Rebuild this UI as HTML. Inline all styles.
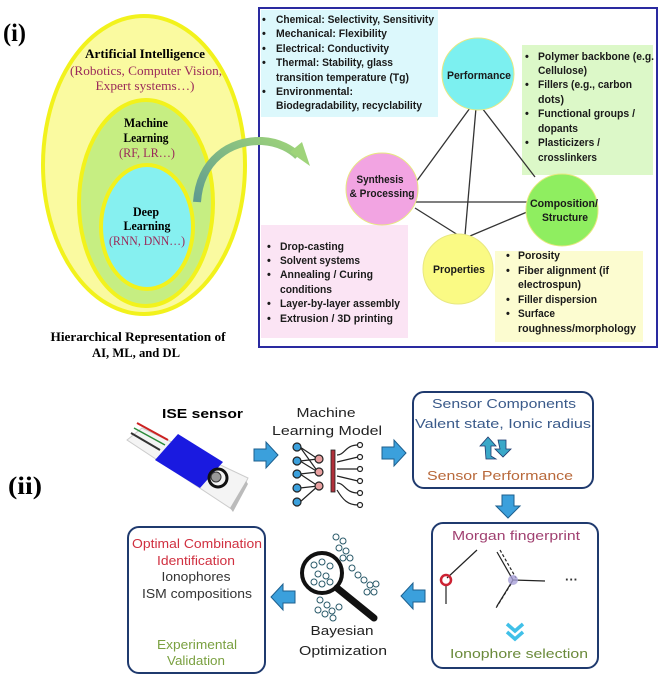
<!DOCTYPE html>
<html><head><meta charset="utf-8"><style>
html,body{margin:0;padding:0;background:#fff;}
svg{display:block;}
.s{font-family:"Liberation Serif",serif;}
.b{font-family:"Liberation Sans",sans-serif;font-weight:bold;font-size:11px;fill:#1a1a1a;}
.a{font-family:"Liberation Sans",sans-serif;font-size:13px;}
</style></head><body>
<svg width="661" height="676" viewBox="0 0 661 676" xmlns="http://www.w3.org/2000/svg">
<defs>
<linearGradient id="ga" x1="0" y1="1" x2="1" y2="0"><stop offset="0" stop-color="#5e9a90"/><stop offset="1" stop-color="#9fd47a"/></linearGradient>
</defs>
<!-- (i) -->
<text x="3" y="41" class="s" font-size="25" font-weight="bold" textLength="23" lengthAdjust="spacingAndGlyphs">(i)</text>
<ellipse cx="144" cy="165" rx="101" ry="149" fill="#fafaa0" stroke="#f2f21c" stroke-width="4"/>
<ellipse cx="146" cy="203" rx="67" ry="103" fill="#c6ee82" stroke="#f2f21c" stroke-width="4"/>
<ellipse cx="147" cy="227" rx="46" ry="62" fill="#86f0f0" stroke="#f2f21c" stroke-width="4"/>
<g class="s" text-anchor="middle" font-size="13">
<text x="145" y="58" font-weight="bold" textLength="120" lengthAdjust="spacingAndGlyphs">Artificial Intelligence</text>
<text x="146" y="75" fill="#9a2a5a" textLength="152" lengthAdjust="spacingAndGlyphs">(Robotics, Computer Vision,</text>
<text x="145" y="90" fill="#9a2a5a" textLength="99" lengthAdjust="spacingAndGlyphs">Expert systems…)</text>
<text x="146" y="127" font-weight="bold" textLength="44" lengthAdjust="spacingAndGlyphs">Machine</text>
<text x="146" y="142" font-weight="bold" textLength="45" lengthAdjust="spacingAndGlyphs">Learning</text>
<text x="147" y="157" fill="#9a2a5a" textLength="56" lengthAdjust="spacingAndGlyphs">(RF, LR…)</text>
<text x="146" y="216" font-weight="bold" textLength="26" lengthAdjust="spacingAndGlyphs">Deep</text>
<text x="147" y="230" font-weight="bold" textLength="47" lengthAdjust="spacingAndGlyphs">Learning</text>
<text x="147" y="245" fill="#9a2a5a" textLength="76" lengthAdjust="spacingAndGlyphs">(RNN, DNN…)</text>
<text x="138" y="341" font-weight="bold" textLength="175" lengthAdjust="spacingAndGlyphs">Hierarchical Representation of</text>
<text x="136" y="357" font-weight="bold" textLength="88" lengthAdjust="spacingAndGlyphs">AI, ML, and DL</text>
</g>
<!-- right box -->
<rect x="259" y="8" width="398" height="339" fill="#fff" stroke="#2a2aa0" stroke-width="2"/>
<rect x="261" y="10" width="177" height="107" fill="#dcf8fc"/>
<rect x="522" y="45" width="131" height="130" fill="#dcf8c8"/>
<rect x="261" y="225" width="147" height="113" fill="#fbe4f4"/>
<rect x="495" y="251" width="148" height="91" fill="#fcfcd0"/>
<!-- arrow -->
<path d="M197 202 C200 160 230 140 262 141 C280 142 292 150 298 156" fill="none" stroke="url(#ga)" stroke-width="8"/>
<polygon points="290,152 310,166 302,142" fill="#9fd47a"/>
<g stroke="#333" stroke-width="1.3">
<line x1="470" y1="108" x2="416" y2="182"/>
<line x1="476" y1="108" x2="465" y2="235"/>
<line x1="482" y1="108" x2="535" y2="177"/>
<line x1="415" y1="202" x2="527" y2="202"/>
<line x1="415" y1="208" x2="458" y2="235"/>
<line x1="470" y1="236" x2="527" y2="212"/>
</g>
<circle cx="478" cy="74" r="36" fill="#7cf0f0" stroke="#e8e880" stroke-width="1"/>
<circle cx="382" cy="189" r="36" fill="#f2a4e2" stroke="#e8e880" stroke-width="1"/>
<circle cx="562" cy="210" r="36" fill="#8fee60" stroke="#e8e880" stroke-width="1"/>
<circle cx="458" cy="269" r="35" fill="#fafa84" stroke="#e8e880" stroke-width="1"/>
<g class="b" text-anchor="middle" font-size="11.5">
<text x="479" y="79" textLength="64" lengthAdjust="spacingAndGlyphs">Performance</text>
<text x="380" y="183" textLength="47" lengthAdjust="spacingAndGlyphs">Synthesis</text>
<text x="382" y="197" textLength="65" lengthAdjust="spacingAndGlyphs">&amp; Processing</text>
<text x="564" y="207" textLength="68" lengthAdjust="spacingAndGlyphs">Composition/</text>
<text x="565" y="221" textLength="46" lengthAdjust="spacingAndGlyphs">Structure</text>
<text x="459" y="273" textLength="52" lengthAdjust="spacingAndGlyphs">Properties</text>
</g>
<g class="b">
<text x="262" y="23">•</text><text x="276" y="23" textLength="158" lengthAdjust="spacingAndGlyphs">Chemical: Selectivity, Sensitivity</text>
<text x="262" y="37">•</text><text x="276" y="37" textLength="111" lengthAdjust="spacingAndGlyphs">Mechanical: Flexibility</text>
<text x="262" y="52">•</text><text x="276" y="52" textLength="113" lengthAdjust="spacingAndGlyphs">Electrical: Conductivity</text>
<text x="262" y="66">•</text><text x="276" y="66" textLength="117" lengthAdjust="spacingAndGlyphs">Thermal: Stability, glass</text>
<text x="276" y="81" textLength="133" lengthAdjust="spacingAndGlyphs">transition temperature (Tg)</text>
<text x="262" y="95">•</text><text x="276" y="95" textLength="77" lengthAdjust="spacingAndGlyphs">Environmental:</text>
<text x="276" y="109" textLength="146" lengthAdjust="spacingAndGlyphs">Biodegradability, recyclability</text>

<text x="525" y="60">•</text><text x="538" y="60" textLength="116" lengthAdjust="spacingAndGlyphs">Polymer backbone (e.g.</text>
<text x="538" y="74" textLength="49" lengthAdjust="spacingAndGlyphs">Cellulose)</text>
<text x="525" y="88">•</text><text x="538" y="88" textLength="94" lengthAdjust="spacingAndGlyphs">Fillers (e.g., carbon</text>
<text x="538" y="103" textLength="26" lengthAdjust="spacingAndGlyphs">dots)</text>
<text x="525" y="117">•</text><text x="538" y="117" textLength="97" lengthAdjust="spacingAndGlyphs">Functional groups /</text>
<text x="538" y="132" textLength="40" lengthAdjust="spacingAndGlyphs">dopants</text>
<text x="525" y="146">•</text><text x="538" y="146" textLength="62" lengthAdjust="spacingAndGlyphs">Plasticizers /</text>
<text x="538" y="161" textLength="59" lengthAdjust="spacingAndGlyphs">crosslinkers</text>

<text x="267" y="250">•</text><text x="280" y="250" textLength="64" lengthAdjust="spacingAndGlyphs">Drop-casting</text>
<text x="267" y="264">•</text><text x="280" y="264" textLength="80" lengthAdjust="spacingAndGlyphs">Solvent systems</text>
<text x="267" y="278">•</text><text x="280" y="278" textLength="93" lengthAdjust="spacingAndGlyphs">Annealing / Curing</text>
<text x="280" y="293" textLength="52" lengthAdjust="spacingAndGlyphs">conditions</text>
<text x="267" y="307">•</text><text x="280" y="307" textLength="120" lengthAdjust="spacingAndGlyphs">Layer-by-layer assembly</text>
<text x="267" y="322">•</text><text x="280" y="322" textLength="113" lengthAdjust="spacingAndGlyphs">Extrusion / 3D printing</text>

<text x="506" y="259">•</text><text x="518" y="259" textLength="42" lengthAdjust="spacingAndGlyphs">Porosity</text>
<text x="506" y="274">•</text><text x="518" y="274" textLength="91" lengthAdjust="spacingAndGlyphs">Fiber alignment (if</text>
<text x="518" y="288" textLength="63" lengthAdjust="spacingAndGlyphs">electrospun)</text>
<text x="506" y="303">•</text><text x="518" y="303" textLength="79" lengthAdjust="spacingAndGlyphs">Filler dispersion</text>
<text x="506" y="317">•</text><text x="518" y="317" textLength="37" lengthAdjust="spacingAndGlyphs">Surface</text>
<text x="518" y="332" textLength="118" lengthAdjust="spacingAndGlyphs">roughness/morphology</text>
</g>

<!-- (ii) -->
<text x="8" y="494" class="s" font-size="25" font-weight="bold" textLength="34" lengthAdjust="spacingAndGlyphs">(ii)</text>
<text x="162" y="418" class="a" font-weight="bold" font-size="14" textLength="81" lengthAdjust="spacingAndGlyphs">ISE sensor</text>
<!-- sensor -->
<polygon points="127,440 142,428 248,478 233,510" fill="#f4f4f4" stroke="#ccc"/>
<polygon points="230,508 246,481 248,484 233,512" fill="#bbb"/>
<line x1="137" y1="423" x2="168" y2="440" stroke="#c22" stroke-width="2"/>
<line x1="134" y1="428" x2="165" y2="445" stroke="#2a8a3a" stroke-width="1.5"/>
<line x1="131" y1="433" x2="160" y2="450" stroke="#333" stroke-width="2"/>
<polygon points="178,434 223,462 200,488 155,460" fill="#1a1ae0"/>
<circle cx="218" cy="478" r="9" fill="none" stroke="#111" stroke-width="3"/>
<circle cx="216" cy="477" r="5" fill="#999" stroke="#333"/>
<!-- blue arrows -->
<g fill="#3ba0dc" stroke="#1d5f8e" stroke-width="1">
<polygon points="254,449 266,449 266,442 278,455 266,468 266,461 254,461"/>
<polygon points="382,447 394,447 394,440 406,453 394,466 394,459 382,459"/>
<polygon points="502,495 514,495 514,506 520,506 508,518 496,506 502,506"/>
<polygon points="425,590 413,590 413,583 401,596 413,609 413,602 425,602"/>
<polygon points="295,591 283,591 283,584 271,597 283,610 283,603 295,603"/>
</g>
<!-- ML model -->
<g class="a" text-anchor="middle" fill="#222" font-size="14">
<text x="326" y="417" textLength="59" lengthAdjust="spacingAndGlyphs">Machine</text>
<text x="327" y="435" textLength="110" lengthAdjust="spacingAndGlyphs">Learning Model</text>
<text x="342" y="635" textLength="63" lengthAdjust="spacingAndGlyphs">Bayesian</text>
<text x="343" y="655" textLength="88" lengthAdjust="spacingAndGlyphs">Optimization</text>
</g>
<g stroke="#222" stroke-width="1.2" fill="none">
<path d="M300 447 L318 459 M300 461 L318 459 M300 461 L318 472 M300 474 L318 472 M300 474 L318 486 M300 488 L318 486 M300 502 L318 486 M300 447 L318 472"/>
<path d="M337 455 C345 455 345 445 358 445 M337 462 L358 457 M337 469 L358 469 M337 476 L358 481 M337 483 C345 483 345 493 358 493 M337 490 C343 500 348 505 358 505"/>
</g>
<g fill="#3ba0dc" stroke="#222" stroke-width="1.2">
<circle cx="297" cy="447" r="4"/><circle cx="297" cy="461" r="4"/><circle cx="297" cy="474" r="4"/><circle cx="297" cy="488" r="4"/><circle cx="297" cy="502" r="4"/>
</g>
<g fill="#e8a0a0" stroke="#222" stroke-width="1.2">
<circle cx="319" cy="459" r="4"/><circle cx="319" cy="472" r="4"/><circle cx="319" cy="486" r="4"/>
</g>
<rect x="331" y="450" width="4" height="42" fill="#b0303a" stroke="#222" stroke-width="0.8"/>
<g fill="#fff" stroke="#222" stroke-width="1.2">
<circle cx="360" cy="445" r="2.5"/><circle cx="360" cy="457" r="2.5"/><circle cx="360" cy="469" r="2.5"/><circle cx="360" cy="481" r="2.5"/><circle cx="360" cy="493" r="2.5"/><circle cx="360" cy="505" r="2.5"/>
</g>
<!-- Sensor components box -->
<rect x="413" y="392" width="180" height="96" rx="11" fill="#fff" stroke="#1f3a6e" stroke-width="2"/>
<g class="a" text-anchor="middle" font-size="14">
<text x="504" y="408" fill="#3a5a8a" textLength="144" lengthAdjust="spacingAndGlyphs">Sensor Components</text>
<text x="503" y="428" fill="#3a5a8a" textLength="176" lengthAdjust="spacingAndGlyphs">Valent state, Ionic radius</text>
<text x="500" y="480" fill="#b8683a" textLength="146" lengthAdjust="spacingAndGlyphs">Sensor Performance</text>
</g>
<polygon points="480,446 488,437 496,446 491,446 491,456 496,459 486,459 485,446" fill="#3aa8c8" stroke="#1f3a6e" stroke-width="0.8"/>
<polygon points="498,440 506,440 506,449 511,449 503,457 495,449 500,449" fill="#3aa8c8" stroke="#1f3a6e" stroke-width="0.8"/>
<!-- Morgan box -->
<rect x="432" y="523" width="166" height="145" rx="11" fill="#fff" stroke="#1f3a6e" stroke-width="2"/>
<g class="a" text-anchor="middle" font-size="14">
<text x="516" y="540" fill="#a04070" textLength="128" lengthAdjust="spacingAndGlyphs">Morgan fingerprint</text>
<text x="519" y="658" fill="#6a8a3a" textLength="138" lengthAdjust="spacingAndGlyphs">Ionophore selection</text>
</g>
<g stroke="#222" stroke-width="1.2">
<line x1="447" y1="578" x2="477" y2="550"/><line x1="446" y1="584" x2="446" y2="604"/>
<line x1="497" y1="552" x2="513" y2="580"/><line x1="513" y1="580" x2="545" y2="581"/><line x1="513" y1="580" x2="497" y2="606"/>
<line x1="500" y1="550" x2="516" y2="578" stroke-dasharray="3,2"/><line x1="511" y1="584" x2="496" y2="608" stroke-dasharray="3,2"/>
</g>
<circle cx="446" cy="580" r="5" fill="none" stroke="#c23" stroke-width="2.5"/>
<circle cx="513" cy="580" r="5" fill="#a8a0d8" opacity="0.8"/>
<text x="565" y="584" class="a" font-size="12" font-weight="bold" fill="#333">···</text>
<g fill="none" stroke="#40c0e8" stroke-width="3.5">
<polyline points="507,624 515,631 523,624"/><polyline points="507,632 515,639 523,632"/>
<polyline points="190,618 198,625 206,618"/><polyline points="190,626 198,633 206,626"/>
</g>
<!-- Optimal box -->
<rect x="128" y="527" width="137" height="146" rx="11" fill="#fff" stroke="#1f3a6e" stroke-width="2"/>
<g class="a" text-anchor="middle" font-size="13">
<text x="197" y="548" fill="#d03040" textLength="130" lengthAdjust="spacingAndGlyphs">Optimal Combination</text>
<text x="196" y="565" fill="#d03040" textLength="78" lengthAdjust="spacingAndGlyphs">Identification</text>
<text x="196" y="581" fill="#333" textLength="69" lengthAdjust="spacingAndGlyphs">Ionophores</text>
<text x="197" y="598" fill="#333" textLength="110" lengthAdjust="spacingAndGlyphs">ISM compositions</text>
<text x="197" y="649" fill="#7aa040" textLength="80" lengthAdjust="spacingAndGlyphs">Experimental</text>
<text x="196" y="665" fill="#7aa040" textLength="58" lengthAdjust="spacingAndGlyphs">Validation</text>
</g>
<!-- Bayesian -->
<g fill="#fff" stroke="#2a5a6a" stroke-width="1">
<circle cx="336" cy="537" r="3"/><circle cx="343" cy="541" r="3"/><circle cx="339" cy="548" r="3"/><circle cx="346" cy="551" r="3"/><circle cx="350" cy="558" r="3"/><circle cx="343" cy="558" r="3"/>
<circle cx="352" cy="568" r="3"/><circle cx="358" cy="575" r="3"/><circle cx="364" cy="580" r="3"/><circle cx="370" cy="585" r="3"/><circle cx="367" cy="592" r="3"/><circle cx="374" cy="592" r="3"/><circle cx="376" cy="584" r="3"/>
<circle cx="320" cy="600" r="3"/><circle cx="327" cy="605" r="3"/><circle cx="318" cy="610" r="3"/><circle cx="325" cy="614" r="3"/><circle cx="332" cy="611" r="3"/><circle cx="339" cy="607" r="3"/><circle cx="333" cy="618" r="3"/>
<circle cx="314" cy="565" r="3"/><circle cx="322" cy="562" r="3"/><circle cx="330" cy="566" r="3"/><circle cx="318" cy="574" r="3"/><circle cx="326" cy="576" r="3"/><circle cx="314" cy="582" r="3"/><circle cx="322" cy="584" r="3"/><circle cx="330" cy="582" r="3"/>
</g>
<circle cx="322" cy="573" r="20" fill="none" stroke="#111" stroke-width="4"/>
<line x1="337" y1="588" x2="374" y2="618" stroke="#111" stroke-width="7" stroke-linecap="round"/>
</svg>
</body></html>
